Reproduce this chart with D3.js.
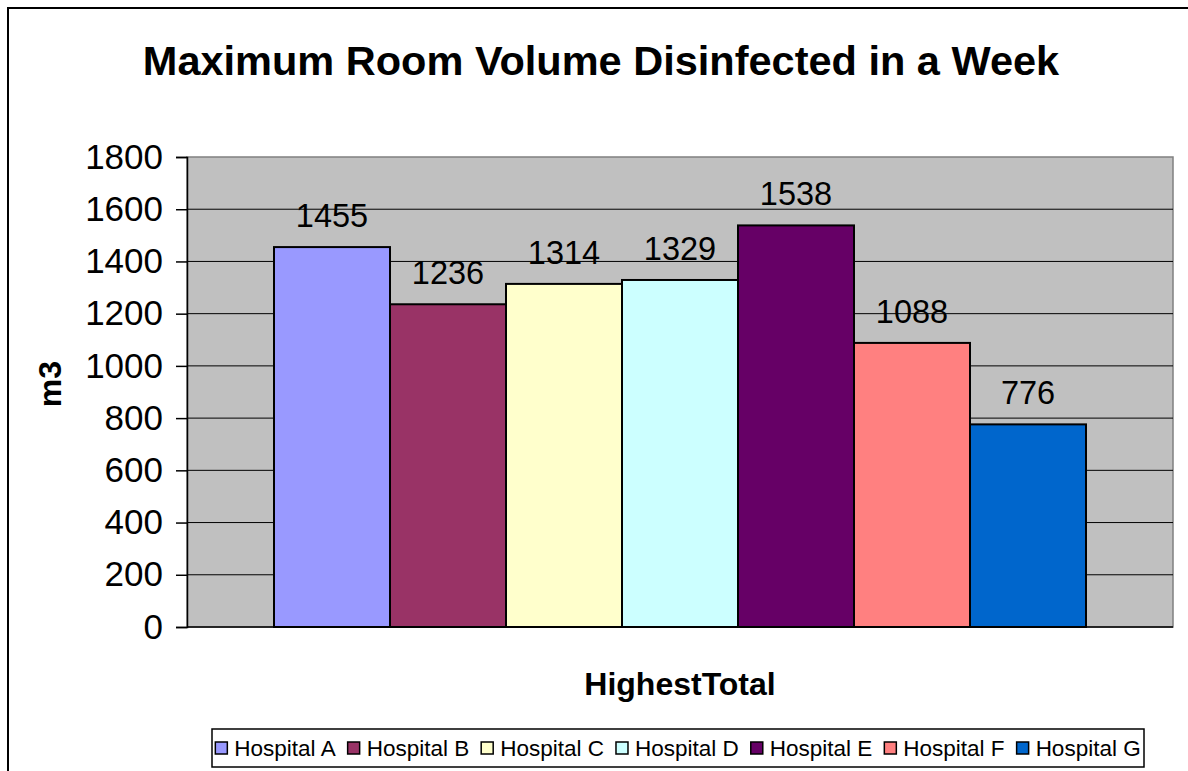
<!DOCTYPE html>
<html>
<head>
<meta charset="utf-8">
<script src="https://cdn.jsdelivr.net/npm/d3@7"></script>
<style>
  body { margin: 0; background: #fff; }
  svg { display: block; font-family: Arial, 'Liberation Sans', sans-serif; }
</style>
</head>
<body>
<div id="chart"></div>
<script>
// data
var hospitals = ['Hospital A', 'Hospital B', 'Hospital C', 'Hospital D', 'Hospital E', 'Hospital F', 'Hospital G'];
var volumes = [1455, 1236, 1314, 1329, 1538, 1088, 776];
var colours = ['#9999FF', '#993366', '#FFFFCC', '#CCFFFF', '#660066', '#FF8080', '#0066CC'];
var category = ['HighestTotal'];
var yTicks = [0, 200, 400, 600, 800, 1000, 1200, 1400, 1600, 1800];

var W = 1188, H = 771;
var plot = {left: 187, top: 157, right: 1173, bottom: 627};

var svg = d3.select('#chart').append('svg')
    .attr('width', W)
    .attr('height', H);

// outer frame (runs off the right and bottom of the picture)
svg.append('rect')
    .attr('x', 8).attr('y', 8)
    .attr('width', W + 20).attr('height', H + 20)
    .attr('fill', 'none')
    .attr('stroke', '#000')
    .attr('stroke-width', 2);

// title
svg.append('text')
    .attr('x', 601)
    .attr('y', 75)
    .attr('text-anchor', 'middle')
    .attr('font-size', '41.5px')
    .attr('font-weight', 'bold')
    .text('Maximum Room Volume Disinfected in a Week');

// scales
var y = d3.scaleLinear().domain([0, 1800]).range([plot.bottom, plot.top]);

// gap width 150% -> 0.75 bar on each side of the cluster
var x0 = d3.scaleBand().domain(category)
    .range([plot.left, plot.right])
    .paddingInner(0)
    .paddingOuter(0.75 / hospitals.length);

var x1 = d3.scaleBand().domain(hospitals)
    .range([0, x0.bandwidth()]);

// plot background
svg.append('rect')
    .attr('x', plot.left).attr('y', plot.top)
    .attr('width', plot.right - plot.left)
    .attr('height', plot.bottom - plot.top)
    .attr('fill', '#C0C0C0')
    .attr('stroke', '#808080')
    .attr('stroke-width', 1.5);

// gridlines
svg.selectAll('line.grid')
    .data(yTicks.filter(function(d) { return d > 0 && d < 1800; }))
  .enter().append('line')
    .attr('class', 'grid')
    .attr('x1', plot.left).attr('x2', plot.right)
    .attr('y1', function(d) { return y(d); })
    .attr('y2', function(d) { return y(d); })
    .attr('stroke', '#000')
    .attr('stroke-width', 1);

// bars
var group = svg.selectAll('g.cat')
    .data(category)
  .enter().append('g')
    .attr('class', 'cat')
    .attr('transform', function(d) { return 'translate(' + x0(d) + ',0)'; });

group.selectAll('rect.bar')
    .data(hospitals.map(function(h, i) { return {name: h, value: volumes[i], colour: colours[i]}; }))
  .enter().append('rect')
    .attr('class', 'bar')
    .attr('x', function(d) { return x1(d.name); })
    .attr('width', x1.bandwidth())
    .attr('y', function(d) { return y(d.value); })
    .attr('height', function(d) { return y(0) - y(d.value); })
    .attr('fill', function(d) { return d.colour; })
    .attr('stroke', '#000')
    .attr('stroke-width', 2);

// value labels
group.selectAll('text.value')
    .data(hospitals.map(function(h, i) { return {name: h, value: volumes[i]}; }))
  .enter().append('text')
    .attr('class', 'value')
    .attr('x', function(d) { return x1(d.name) + x1.bandwidth() / 2; })
    .attr('y', function(d) { return y(d.value) - 20; })
    .attr('text-anchor', 'middle')
    .attr('font-size', '32.5px')
    .attr('fill', '#000')
    .text(function(d) { return d.value; });

// y axis
var yAxis = d3.axisLeft(y)
    .tickValues(yTicks)
    .tickSize(11)
    .tickPadding(13)
    .tickFormat(d3.format('d'));

var gy = svg.append('g')
    .attr('transform', 'translate(' + plot.left + ',0)')
    .call(yAxis);
gy.select('.domain').attr('stroke', '#000').attr('stroke-width', 1.5);
gy.selectAll('.tick line').attr('stroke', '#000').attr('stroke-width', 1.5);
gy.selectAll('.tick text')
    .attr('font-size', '35px')
    .attr('font-family', 'Arial, "Liberation Sans", sans-serif')
    .attr('fill', '#000');

// x axis baseline
svg.append('line')
    .attr('x1', plot.left).attr('x2', plot.right)
    .attr('y1', y(0)).attr('y2', y(0))
    .attr('stroke', '#000')
    .attr('stroke-width', 1.5);

// axis titles
svg.append('text')
    .attr('x', (plot.left + plot.right) / 2)
    .attr('y', 695)
    .attr('text-anchor', 'middle')
    .attr('font-size', '32px')
    .attr('font-weight', 'bold')
    .text(category[0]);

svg.append('text')
    .attr('transform', 'translate(61,' + ((plot.top + plot.bottom) / 2 - 8) + ') rotate(-90)')
    .attr('text-anchor', 'middle')
    .attr('font-size', '32px')
    .attr('font-weight', 'bold')
    .text('m3');

// legend
var legend = {left: 212, top: 729, right: 1144, bottom: 767};
svg.append('rect')
    .attr('x', legend.left).attr('y', legend.top)
    .attr('width', legend.right - legend.left)
    .attr('height', legend.bottom - legend.top)
    .attr('fill', '#fff')
    .attr('stroke', '#000')
    .attr('stroke-width', 1.5);

var items = svg.selectAll('g.legend')
    .data(hospitals)
  .enter().append('g')
    .attr('class', 'legend');

items.append('rect')
    .attr('width', 12).attr('height', 12)
    .attr('y', 742)
    .attr('fill', function(d, i) { return colours[i]; })
    .attr('stroke', '#000')
    .attr('stroke-width', 1.5);

items.append('text')
    .attr('y', 756)
    .attr('font-size', '22.5px')
    .attr('fill', '#000')
    .text(function(d) { return d; });

// lay the legend items out one after another and centre them in the box
var widths = [];
items.selectAll('text').each(function() { widths.push(this.getComputedTextLength()); });
var gap = 12;
var total = d3.sum(widths, function(w) { return 12 + 7 + w; }) + gap * (widths.length - 1);
var cx = (legend.left + legend.right) / 2 - total / 2;
items.each(function(d, i) {
  var g = d3.select(this);
  g.select('rect').attr('x', cx);
  g.select('text').attr('x', cx + 19);
  cx += 19 + widths[i] + gap;
});
</script>
</body>
</html>
